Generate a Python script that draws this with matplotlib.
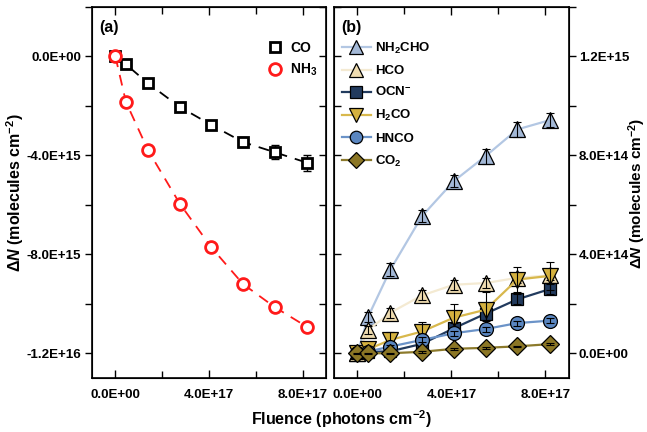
import numpy as np
import matplotlib
matplotlib.use('Agg')
import matplotlib.pyplot as plt
from matplotlib.ticker import FuncFormatter, MultipleLocator

plt.rcParams['font.family'] = ['Liberation Sans', 'DejaVu Sans']
plt.rcParams['font.weight'] = 'bold'
plt.rcParams['axes.labelweight'] = 'bold'
plt.rcParams['mathtext.fontset'] = 'custom'
plt.rcParams['mathtext.rm'] = 'Liberation Sans:bold'
plt.rcParams['mathtext.bf'] = 'Liberation Sans:bold'
plt.rcParams['mathtext.it'] = 'Liberation Sans:bold:italic'

#Fluence (photons cm-2)
fluence = np.array([0, 0.45, 1.4, 2.75, 4.1, 5.45, 6.8, 8.2]) * 1e17

#Panel (a) - column density change of the reactants
co = np.array([0, -0.32, -1.09, -2.04, -2.77, -3.46, -3.87, -4.3]) * 1e15
co_err = np.array([0.05, 0.08, 0.1, 0.12, 0.18, 0.22, 0.28, 0.32]) * 1e15
nh3 = np.array([0, -1.84, -3.8, -5.95, -7.72, -9.2, -10.13, -10.94]) * 1e15

#Panel (b) - products
nh2cho = np.array([0, 1.47, 3.38, 5.55, 6.96, 7.97, 9.05, 9.43]) * 1e14
nh2cho_err = np.array([0.05, 0.2, 0.25, 0.25, 0.25, 0.3, 0.3, 0.3]) * 1e14
hco = np.array([0, 0.94, 1.64, 2.34, 2.77, 2.84, 3.05, 3.15]) * 1e14
hco_err = np.array([0.05, 0.15, 0.2, 0.2, 0.2, 0.2, 0.2, 0.2]) * 1e14
ocn = np.array([0, 0.05, 0.08, 0.38, 1.01, 1.6, 2.18, 2.6]) * 1e14
ocn_err = np.array([0.02, 0.05, 0.05, 0.15, 0.2, 0.3, 0.2, 0.2]) * 1e14
h2co = np.array([0, 0.16, 0.54, 0.88, 1.44, 1.76, 2.98, 3.13]) * 1e14
h2co_err = np.array([0.02, 0.08, 0.3, 0.37, 0.54, 0.7, 0.5, 0.56]) * 1e14
hnco = np.array([0, 0.07, 0.27, 0.54, 0.81, 0.98, 1.22, 1.32]) * 1e14
hnco_err = np.array([0.02, 0.05, 0.08, 0.1, 0.1, 0.1, 0.1, 0.1]) * 1e14
co2 = np.array([0, 0.0, 0.0, 0.06, 0.18, 0.22, 0.28, 0.37]) * 1e14
co2_err = np.array([0.02, 0.03, 0.03, 0.03, 0.03, 0.03, 0.03, 0.03]) * 1e14

fmt = FuncFormatter(lambda v, pos: f"{v:.1E}")
ylab = r'$\Delta\it{N}$ (molecules cm$^{-2}$)'
tsize = 9.6

fig = plt.figure(figsize=(6.47, 4.32), dpi=100)
axa = fig.add_axes([0.1422, 0.125, 0.3617, 0.8588])
axb = fig.add_axes([0.5162, 0.125, 0.3632, 0.8588])

def style(ax, ylim, ymaj, ymin, side):
    ax.set_xlim(-1e17, 9e17)
    ax.set_ylim(*ylim)
    ax.xaxis.set_major_locator(MultipleLocator(4e17))
    ax.xaxis.set_minor_locator(MultipleLocator(2e17))
    ax.yaxis.set_major_locator(MultipleLocator(ymaj))
    ax.yaxis.set_minor_locator(MultipleLocator(ymin))
    ax.xaxis.set_major_formatter(fmt)
    ax.yaxis.set_major_formatter(fmt)
    ax.tick_params(axis='x', which='both', direction='in', top=True, labelsize=tsize, pad=8)
    ax.tick_params(axis='x', which='major', length=6, width=1)
    ax.tick_params(axis='x', which='minor', length=5, width=1)
    for s in ax.spines.values():
        s.set_linewidth(1.2)
    # other side y ticks point inward, on a twin axes
    tw = ax.twinx()
    tw.set_ylim(*ylim)
    tw.yaxis.set_major_locator(MultipleLocator(ymaj))
    tw.yaxis.set_minor_locator(MultipleLocator(ymin))
    tw.set_navigate(False)
    if side == 'left':
        ax.tick_params(axis='y', which='both', direction='out', labelsize=tsize, pad=3)
        ax.tick_params(axis='y', which='both', length=5, width=1)
        tw.tick_params(axis='y', which='both', direction='in', length=5, width=1, labelright=False)
        return ax
    else:
        ax.tick_params(axis='y', which='both', direction='in', length=5, width=1, labelleft=False)
        tw.yaxis.set_major_formatter(fmt)
        tw.tick_params(axis='y', which='both', direction='out', labelsize=tsize, pad=2)
        tw.tick_params(axis='y', which='both', length=5, width=1)
        return tw

style(axa, (-1.3e16, 2e15), 4e15, 2e15, 'left')
twb = style(axb, (-1e14, 1.4e15), 4e14, 2e14, 'right')

#Panel (a)
axa.plot(fluence, co, '--', color='black', lw=1.3, dashes=(6, 4.5), zorder=2)
axa.plot(fluence, nh3, '--', color='#ff1a1a', lw=1.3, dashes=(6, 4.5), zorder=2)
axa.errorbar(fluence, co, yerr=co_err, fmt='none', ecolor='black', elinewidth=1, capsize=3, zorder=3)
axa.plot(fluence, co, 's', ms=7.5, mfc='white', mec='black', mew=2, label='CO', zorder=4)
axa.plot(fluence, nh3, 'o', ms=8.5, mfc='white', mec='#ff1a1a', mew=2, label='NH$_3$', zorder=4)
axa.set_ylabel(ylab, fontsize=11.5, labelpad=0)
axa.text(0.03, 0.965, '(a)', transform=axa.transAxes, fontsize=11.5, fontweight='bold', va='top')
axa.legend(loc='upper right', bbox_to_anchor=(1.0, 0.93), frameon=False, fontsize=10,
           handletextpad=0.5, borderaxespad=0.2, labelspacing=0.45, handlelength=1.2)

#Panel (b)
series = [
    (nh2cho, nh2cho_err, 'NH$_2$CHO', '^', '#a3b8d6', '#b3c7e3', 11.5),
    (hco, hco_err, 'HCO', '^', '#efdcb0', '#f4ead2', 11.5),
    (ocn, ocn_err, 'OCN$^{-}$', 's', '#223b5e', '#223b5e', 9),
    (h2co, h2co_err, 'H$_2$CO', 'v', '#d4b13f', '#d8b84c', 11.5),
    (hnco, hnco_err, 'HNCO', 'o', '#5a86c0', '#6b93c8', 10),
    (co2, co2_err, 'CO$_2$', 'D', '#8b7625', '#8c7a2c', 9),
]
z = 2
for vals, err, name, mk, face, line, ms in series:
    axb.plot(fluence, vals, '-', color=line, lw=1.6, marker=mk, ms=ms, mfc=face,
             mec='black', mew=0.9, label=name, zorder=z)
    axb.errorbar(fluence, vals, yerr=err, fmt='none', ecolor='black', elinewidth=0.8,
                 capsize=3, capthick=0.8, zorder=z + 0.5)
    z += 1

axb.text(0.03, 0.965, '(b)', transform=axb.transAxes, fontsize=11.5, fontweight='bold', va='top')
axb.legend(loc='upper left', bbox_to_anchor=(0.0, 0.93), frameon=False, fontsize=9.5,
           handletextpad=0.3, borderaxespad=0.2, labelspacing=0.68, handlelength=2.2,
           markerscale=0.9)

fig.text(0.985, 0.5533, ylab, rotation=90, ha='center', va='center', fontsize=11)
fig.text(0.527, 0.03, 'Fluence (photons cm$^{-2}$)', ha='center', va='center', fontsize=11.5,
         fontweight='bold')

fig.savefig('out.png', dpi=100)
